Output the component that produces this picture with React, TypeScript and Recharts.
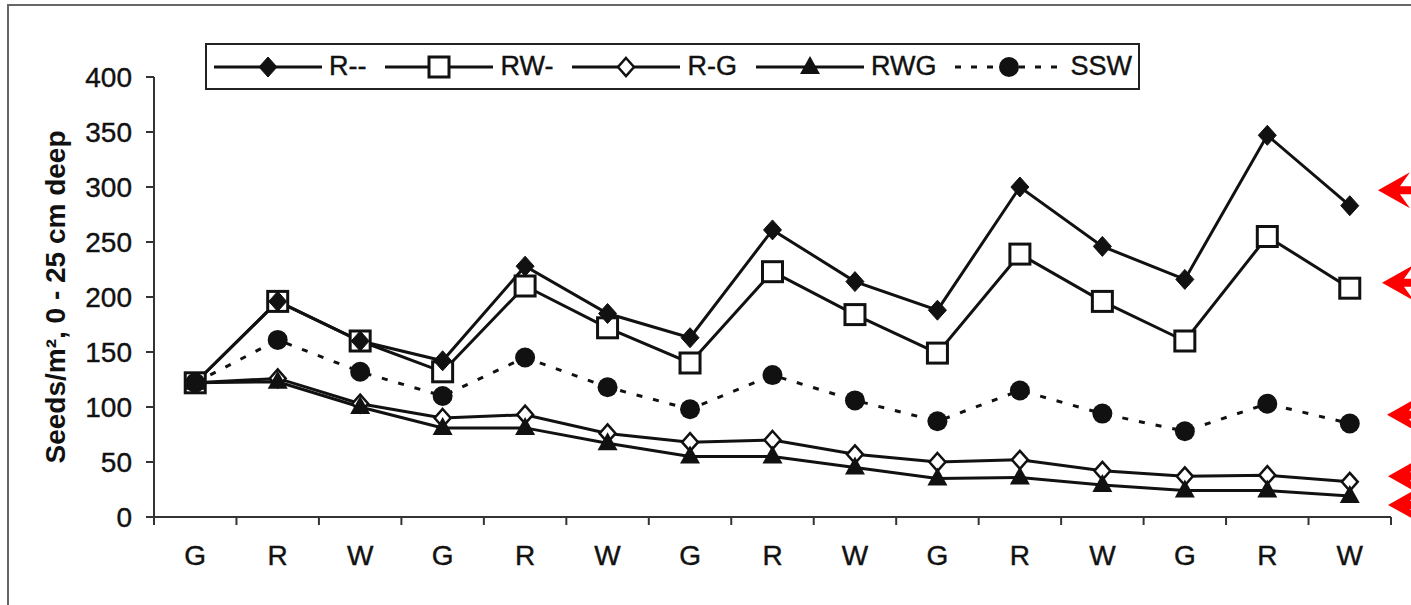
import React from 'react';
import { LineChart, Line, XAxis, YAxis, Legend, ReferenceDot } from 'recharts';

// Categorías del eje X (parcelas por año)
const CATEGORIES = ['G', 'R', 'W', 'G', 'R', 'W', 'G', 'R', 'W', 'G', 'R', 'W', 'G', 'R', 'W'];

// Series (semillas/m²)
const R_NONE = [122, 196, 160, 142, 228, 185, 163, 261, 214, 188, 300, 246, 216, 347, 283];
const RW_NONE = [122, 196, 160, 132, 210, 172, 140, 223, 184, 149, 239, 196, 160, 255, 208];
const R_G = [122, 126, 103, 90, 93, 76, 68, 70, 57, 50, 52, 42, 37, 38, 32];
const RWG = [122, 123, 100, 81, 81, 67, 55, 55, 45, 35, 36, 29, 24, 24, 19];
const SSW = [122, 161, 132, 110, 145, 118, 98, 129, 106, 87, 115, 94, 78, 103, 85];

const Y_TICKS = [0, 50, 100, 150, 200, 250, 300, 350, 400];

// Flechas rojas (anotación) al lado derecho
const ARROW_VALUES = [297, 213, 93, 37, 11];
const ARROW_SHIFT = [-13, -9, -4, -3, -3];

const FONT = '"Liberation Sans", Arial, sans-serif';
const INK = '#111';

const data = CATEGORIES.map((c, i) => ({
  x: i + 0.5,
  cat: c,
  rNone: R_NONE[i],
  rwNone: RW_NONE[i],
  rg: R_G[i],
  rwg: RWG[i],
  ssw: SSW[i],
}));

const xTicks: number[] = [];
for (let i = 0; i <= CATEGORIES.length; i++) {
  xTicks.push(i);
  if (i < CATEGORIES.length) xTicks.push(i + 0.5);
}

// Marcadores
const FilledDiamond = ({ cx, cy }: any) => (
  <path d={`M${cx},${cy - 10} L${cx + 9},${cy} L${cx},${cy + 10} L${cx - 9},${cy} Z`} fill={INK} stroke={INK} strokeWidth={1} />
);
const OpenSquare = ({ cx, cy }: any) => (
  <rect x={cx - 10} y={cy - 10} width={20} height={20} fill="#fff" stroke={INK} strokeWidth={3} />
);
const OpenDiamond = ({ cx, cy }: any) => (
  <path d={`M${cx},${cy - 9} L${cx + 8},${cy} L${cx},${cy + 9} L${cx - 8},${cy} Z`} fill="#fff" stroke={INK} strokeWidth={2.5} />
);
const FilledTriangle = ({ cx, cy }: any) => (
  <path d={`M${cx},${cy - 11} L${cx + 10},${cy + 7} L${cx - 10},${cy + 7} Z`} fill={INK} />
);
const FilledCircle = ({ cx, cy }: any) => <circle cx={cx} cy={cy} r={10} fill={INK} />;

const dotOf = (Shape: any) => (props: any) => <Shape key={`d-${props.index}`} cx={props.cx} cy={props.cy} />;

const XTick = (props: any) => {
  const { x, y, payload } = props;
  const v = Number(payload.value);
  if (Number.isInteger(v)) {
    return <line x1={x} y1={y - 8} x2={x} y2={y} stroke="#333" strokeWidth={2} />;
  }
  return (
    <text x={x} y={y + 40} textAnchor="middle" fontSize={28} fill={INK} stroke={INK} strokeWidth={0.4} fontFamily={FONT}>
      {CATEGORIES[Math.floor(v)]}
    </text>
  );
};

const LEGEND_ITEMS = [
  { label: 'R--', Shape: FilledDiamond, dash: undefined },
  { label: 'RW-', Shape: OpenSquare, dash: undefined },
  { label: 'R-G', Shape: OpenDiamond, dash: undefined },
  { label: 'RWG', Shape: FilledTriangle, dash: undefined },
  { label: 'SSW', Shape: FilledCircle, dash: '6 10' },
];

const renderLegend = () => (
  <div
    style={{
      display: 'flex',
      alignItems: 'center',
      height: 43,
      border: '2px solid #222',
      padding: '0 6px',
      gap: 18,
      fontFamily: FONT,
      fontSize: 27,
      color: INK,
      boxSizing: 'content-box',
      whiteSpace: 'nowrap',
      WebkitTextStroke: '0.4px #111',
    }}
  >
    {LEGEND_ITEMS.map((it) => (
      <div key={it.label} style={{ display: 'flex', alignItems: 'center' }}>
        <svg width={110} height={30}>
          <line x1={1} y1={15} x2={109} y2={15} stroke={INK} strokeWidth={3} strokeDasharray={it.dash} />
          <it.Shape cx={55} cy={15} />
        </svg>
        <span style={{ marginLeft: 6 }}>{it.label}</span>
      </div>
    ))}
  </div>
);

const Arrow = ({ cx, cy, shift }: any) => {
  const t = cx + shift;
  return (
    <path
      d={`M${t},${cy} L${t + 32},${cy - 18} L${t + 22},${cy - 4} L${t + 45},${cy - 4} L${t + 45},${cy + 4} L${t + 22},${cy + 4} L${t + 32},${cy + 18} Z`}
      fill="#ff0000"
    />
  );
};

const YLabel = (props: any) => {
  const vb = props.viewBox || {};
  const cx = vb.x + 31;
  const cy = vb.y + vb.height / 2;
  return (
    <text
      x={cx}
      y={cy}
      transform={`rotate(-90 ${cx} ${cy})`}
      textAnchor="middle"
      dominantBaseline="central"
      fontSize={28}
      fontWeight="bold"
      fill={INK}
      fontFamily={FONT}
    >
      Seeds/m², 0 - 25 cm deep
    </text>
  );
};

export default function App() {
  return (
    <div style={{ position: 'absolute', left: 0, top: 0, width: 1411, height: 605, background: '#fff', overflow: 'hidden' }}>
      <div
        style={{
          position: 'absolute',
          left: 7,
          top: 4,
          width: 1420,
          height: 620,
          borderTop: '2px solid #666',
          borderLeft: '2px solid #666',
        }}
      />
      <div style={{ position: 'absolute', left: 0, top: 0 }}>
        <LineChart width={1411} height={605} data={data} margin={{ top: 77, right: 20, left: 24, bottom: 28 }}>
          <XAxis
            dataKey="x"
            type="number"
            domain={[0, CATEGORIES.length]}
            ticks={xTicks}
            interval={0}
            tick={<XTick />}
            tickLine={false}
            tickSize={8}
            tickMargin={0}
            height={60}
            axisLine={{ stroke: '#333', strokeWidth: 2 }}
          />
          <YAxis
            domain={[0, 400]}
            ticks={Y_TICKS}
            interval={0}
            width={130}
            tickSize={8}
            tickMargin={14}
            axisLine={{ stroke: '#333', strokeWidth: 2 }}
            tickLine={{ stroke: '#333', strokeWidth: 2 }}
            tick={{ fontSize: 28, fill: INK, stroke: INK, strokeWidth: 0.4, fontFamily: FONT }}
            label={<YLabel />}
          />
          <Legend
            content={renderLegend}
            layout="horizontal"
            verticalAlign="middle"
            align="center"
            wrapperStyle={{ top: 43, left: 205, width: 'auto', height: 'auto' }}
          />
          <Line dataKey="rg" stroke={INK} strokeWidth={3} dot={dotOf(OpenDiamond)} isAnimationActive={false} />
          <Line dataKey="rwNone" stroke={INK} strokeWidth={3} dot={dotOf(OpenSquare)} isAnimationActive={false} />
          <Line dataKey="rNone" stroke={INK} strokeWidth={3} dot={dotOf(FilledDiamond)} isAnimationActive={false} />
          <Line dataKey="rwg" stroke={INK} strokeWidth={3} dot={dotOf(FilledTriangle)} isAnimationActive={false} />
          <Line
            dataKey="ssw"
            stroke={INK}
            strokeWidth={3}
            strokeDasharray="6 11"
            dot={dotOf(FilledCircle)}
            isAnimationActive={false}
          />
          {ARROW_VALUES.map((v, i) => (
            <ReferenceDot
              key={`arrow-${i}`}
              x={CATEGORIES.length}
              y={v}
              ifOverflow="visible"
              shape={(p: any) => <Arrow cx={p.cx} cy={p.cy} shift={ARROW_SHIFT[i]} />}
            />
          ))}
        </LineChart>
      </div>
    </div>
  );
}
